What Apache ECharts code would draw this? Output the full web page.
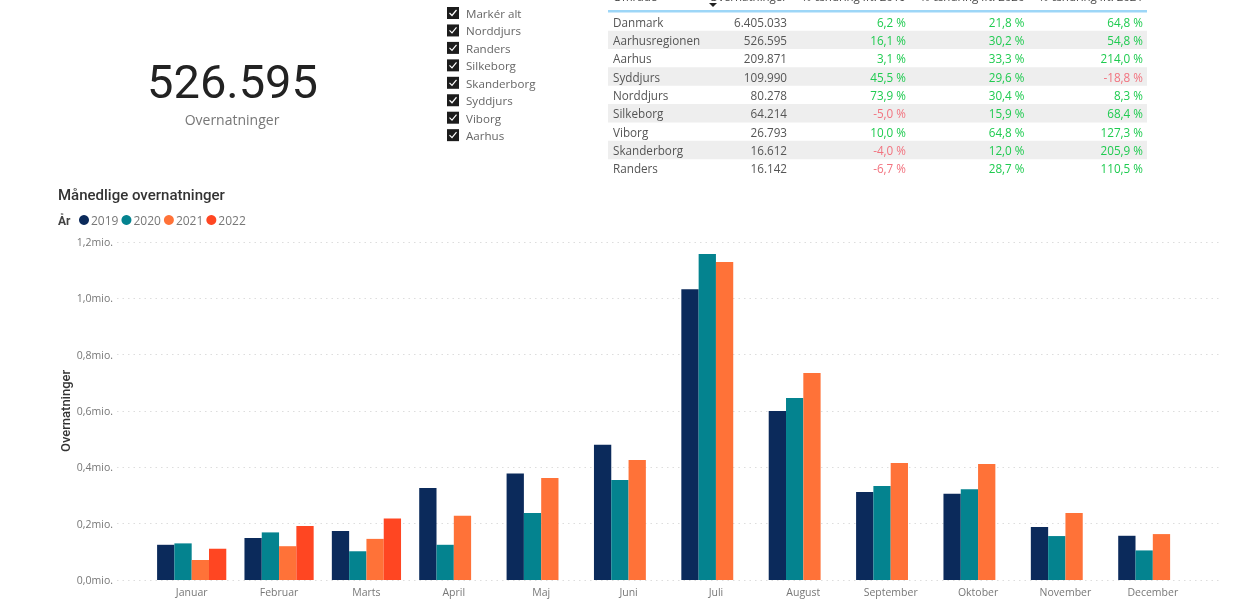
<!DOCTYPE html>
<html><head><meta charset="utf-8">
<style>html,body{margin:0;padding:0;background:#fff}#c{width:1240px;height:600px;filter:blur(0.4px)}</style>
<script src="https://cdn.jsdelivr.net/npm/echarts@6/dist/echarts.min.js"></script>
</head><body><div id="c"></div>
<script>
const months = ['Januar','Februar','Marts','April','Maj','Juni','Juli','August','September','Oktober','November','December'];
const v2019 = [0.125,0.149,0.174,0.327,0.378,0.480,1.032,0.600,0.312,0.306,0.188,0.157];
const v2020 = [0.130,0.169,0.102,0.125,0.238,0.355,1.157,0.646,0.334,0.322,0.156,0.105];
const v2021 = [0.071,0.120,0.146,0.228,0.362,0.426,1.129,0.735,0.415,0.412,0.238,0.163];
const v2022 = [0.111,0.192,0.218,null,null,null,null,null,null,null,null,null];
const years = ['2019','2020','2021','2022'];
const yearColors = ['#0b2a5b','#04838f','#ff7238','#ff4622'];

const kpiValue = '526.595';
const kpiLabel = 'Overnatninger';
const slicerItems = ['Markér alt','Norddjurs','Randers','Silkeborg','Skanderborg','Syddjurs','Viborg','Aarhus'];

const tableHeader = ['Område','Overnatninger','%-ændring ift. 2019','%-ændring ift. 2020','%-ændring ift. 2021'];
const tableAreas = ['Danmark','Aarhusregionen','Aarhus','Syddjurs','Norddjurs','Silkeborg','Viborg','Skanderborg','Randers'];
const tableNights = ['6.405.033','526.595','209.871','109.990','80.278','64.214','26.793','16.612','16.142'];
const tableVs2019 = ['6,2 %','16,1 %','3,1 %','45,5 %','73,9 %','-5,0 %','10,0 %','-4,0 %','-6,7 %'];
const tableVs2020 = ['21,8 %','30,2 %','33,3 %','29,6 %','30,4 %','15,9 %','64,8 %','12,0 %','28,7 %'];
const tableVs2021 = ['64,8 %','54,8 %','214,0 %','-18,8 %','8,3 %','68,4 %','127,3 %','205,9 %','110,5 %'];

const SEGOE = '"Open Sans","Noto Sans",sans-serif';
const DIN = 'Roboto,sans-serif';
const g = [];
function txt(x,y,text,o){
  o=o||{};
  g.push({type:'text',x:x,y:y,silent:true,z:5,style:{text:text,fill:o.c||'#555',font:(o.w||'normal')+' '+(o.s||12)+'px '+(o.f||SEGOE),
    textAlign:o.a||'left',textVerticalAlign:'middle',textBaseline:'middle'}});
}
txt(232.5,81,kpiValue,{s:47,f:DIN,c:'#222',a:'center'});
txt(232,119,kpiLabel,{s:14,c:'#777',a:'center'});
txt(58,195,'Månedlige overnatninger',{s:15,f:DIN,c:'#333',w:'500'});
txt(58,220.5,'År',{s:12,f:DIN,c:'#444',w:'bold'});

slicerItems.forEach((t,i)=>{
  const y=13+i*17.45;
  g.push({type:'rect',silent:true,shape:{x:447,y:y-6,width:12,height:12},style:{fill:'#1c1c1c'},z:5});
  g.push({type:'polyline',silent:true,shape:{points:[[449.5,y],[452,y+2.5],[456.5,y-3]]},style:{stroke:'#fff',lineWidth:1.2,fill:null},z:6});
  txt(466,y+0.5,t,{s:11.6,c:'#666'});
});

const rowY=i=>21.5+i*18.35;
const cols=[787,906,1024.5,1143];
txt(613,-3.5,tableHeader[0],{s:11.5,c:'#444'});
tableHeader.slice(1).forEach((t,i)=>txt(cols[i],-3.5,t,{s:11.5,c:'#444',a:'right'}));
g.push({type:'polygon',silent:true,shape:{points:[[709,3],[717,3],[713,7]]},style:{fill:'#222'},z:5});
g.push({type:'rect',silent:true,shape:{x:608,y:10,width:539,height:2.5},style:{fill:'#9dd6f7'},z:5});
tableAreas.forEach((a,i)=>{
  if(i%2===1) g.push({type:'rect',silent:true,shape:{x:608,y:rowY(i)-9.2,width:539,height:18.4},style:{fill:'#eeeeee'},z:1});
  txt(613,rowY(i),a,{s:11.7,c:'#555'});
  txt(cols[0],rowY(i),tableNights[i],{s:11.7,c:'#555',a:'right'});
  [tableVs2019,tableVs2020,tableVs2021].forEach((col,k)=>{
    const s=col[i];
    txt(cols[k+1],rowY(i),s,{s:11.7,c:s[0]==='-'?'#f2737f':'#1fcb50',a:'right'});
  });
});

const mkSeries=(name,data,i)=>({name:name,type:'bar',data:data,xAxisIndex:0,yAxisIndex:0,barWidth:17.3,barGap:'0%',
  itemStyle:{color:yearColors[i]},emphasis:{disabled:true},z:3,animation:false});
const labelFmt=v=>v.toFixed(1).replace('.',',')+'mio.';

const chart=echarts.init(document.getElementById('c'),null,{renderer:'svg'});
chart.setOption({
  animation:false,
  backgroundColor:'#fff',
  textStyle:{fontFamily:SEGOE},
  legend:{show:true,left:74,top:209,icon:'circle',itemWidth:10,itemHeight:10,itemGap:3,selectedMode:false,
    data:years,textStyle:{color:'#777',fontSize:12,fontFamily:SEGOE,padding:[0,0,0,-3]}},
  grid:[
    {left:148,right:43.5,top:242,bottom:20},
    {left:117,right:20,top:242,bottom:20}
  ],
  xAxis:[
    {type:'category',gridIndex:0,data:months,axisLine:{show:false},axisTick:{show:false},
     axisLabel:{color:'#777',fontSize:10.5,margin:6,interval:0,fontFamily:SEGOE},splitLine:{show:false}},
    {type:'category',gridIndex:1,data:[''],show:false}
  ],
  yAxis:[
    {type:'value',gridIndex:0,min:0,max:1.2,interval:0.2,show:false},
    {type:'value',gridIndex:1,min:0,max:1.2,interval:0.2,name:'Overnatninger',nameLocation:'middle',nameGap:45,nameMoveOverlap:false,
     nameTextStyle:{color:'#333',fontSize:13,fontWeight:'500',fontFamily:DIN},
     axisLine:{show:false},axisTick:{show:false},
     axisLabel:{color:'#777',fontSize:10.5,margin:4,formatter:labelFmt,fontFamily:SEGOE},
     splitLine:{show:true,lineStyle:{color:'#dddddd',type:[1.5,4],width:1}}}
  ],
  series:[mkSeries('2019',v2019,0),mkSeries('2020',v2020,1),mkSeries('2021',v2021,2),mkSeries('2022',v2022,3)],
  graphic:g
});
</script></body></html>
